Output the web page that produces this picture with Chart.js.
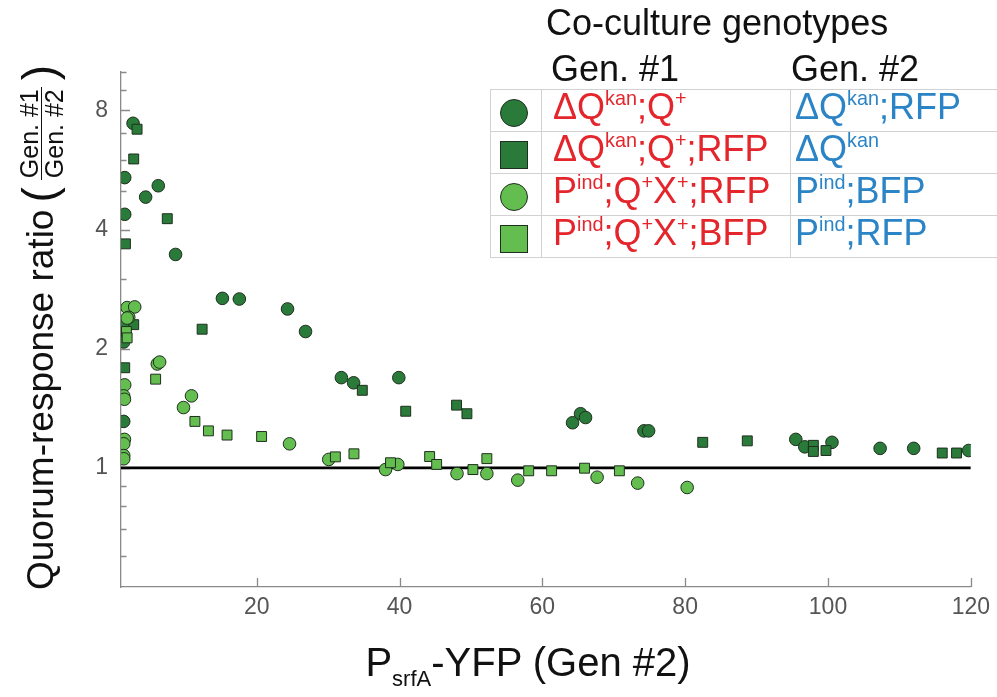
<!DOCTYPE html>
<html>
<head>
<meta charset="utf-8">
<script src="https://cdn.jsdelivr.net/npm/chart.js@4.4.0/dist/chart.umd.min.js"></script>
<style>
  html, body { margin: 0; padding: 0; background: #fff; }
  #wrap { position: relative; width: 997px; height: 697px; overflow: hidden;
          font-family: "Liberation Sans", Arial, sans-serif; }
  #chart { position: absolute; left: 0; top: 0; }
  .heading { position: absolute; font-size: 36px; line-height: 36px; color: #111; white-space: nowrap; }
  table.key { position: absolute; left: 490px; top: 89px; border-collapse: collapse; background: #fff;
              table-layout: fixed; width: 560px; }
  table.key td { border: 1.5px solid #d2d2d2; height: 41px; padding: 0; font-size: 36px;
                 line-height: 34px; white-space: nowrap; vertical-align: top; overflow: hidden; }
  table.key td.mk { text-align: center; vertical-align: middle; }
  table.key td.g1 { padding-left: 11px; color: #e4262c; }
  table.key td.g2 { padding-left: 4px; color: #2b84c6; }
  .sw { display: inline-block; width: 28px; height: 28px; border: 1.5px solid #1f2f1f;
        vertical-align: middle; box-sizing: border-box; margin-left: -5px; }
  .sw.circle { border-radius: 50%; }
  .sw.dark { background: #2a7a3a; }
  .sw.light { background: #63be4f; }
  table.key sup { font-size: 0.55em; vertical-align: 0; position: relative; top: -0.72em; }
  #ylab { position: absolute; left: 16px; top: 590px; transform-origin: 0 0; transform: rotate(-90deg);
          display: flex; align-items: center; white-space: nowrap; font-size: 37px; color: #111;
          height: 50px; }
  #ylab .paren { font-size: 46px; margin: 0 7px; position: relative; top: -2px; }
  #ylab .frac { display: inline-flex; flex-direction: column; align-items: center; font-size: 25px;
                line-height: 24px; }
  #ylab .frac .num { border-bottom: 1.5px solid #111; padding: 0 2px; }
  #xlab { position: absolute; left: 278px; width: 500px; top: 640px; text-align: center;
          font-family: "Liberation Sans Narrow", "Liberation Sans", Arial, sans-serif;
          font-size: 40px; color: #111; white-space: nowrap; }
  #xlab sub { font-size: 0.55em; vertical-align: 0; position: relative; top: 0.45em; }
</style>
</head>
<body>
<div id="wrap">
  <canvas id="chart" width="997" height="697"></canvas>

  <div id="ylab"><span>Quorum-response ratio</span><span class="paren">(</span><span class="frac"><span class="num">Gen. #1</span><span class="den">Gen. #2</span></span><span class="paren">)</span></div>
  <div id="xlab">P<sub>srfA</sub>-YFP (Gen #2)</div>

  <div class="heading" style="left:546px; top:5px;">Co-culture genotypes</div>
  <div class="heading" style="left:551px; top:51px;">Gen. #1</div>
  <div class="heading" style="left:791px; top:51px;">Gen. #2</div>
  <table class="key">
    <colgroup><col style="width:51px"><col style="width:249px"><col style="width:260px"></colgroup>
    <tr><td class="mk"><span class="sw circle dark"></span></td>
        <td class="g1">ΔQ<sup>kan</sup>;Q<sup>+</sup></td>
        <td class="g2">ΔQ<sup>kan</sup>;RFP</td></tr>
    <tr><td class="mk"><span class="sw dark"></span></td>
        <td class="g1">ΔQ<sup>kan</sup>;Q<sup>+</sup>;RFP</td>
        <td class="g2">ΔQ<sup>kan</sup></td></tr>
    <tr><td class="mk"><span class="sw circle light"></span></td>
        <td class="g1">P<sup>ind</sup>;Q<sup>+</sup>X<sup>+</sup>;RFP</td>
        <td class="g2">P<sup>ind</sup>;BFP</td></tr>
    <tr><td class="mk"><span class="sw light"></span></td>
        <td class="g1">P<sup>ind</sup>;Q<sup>+</sup>X<sup>+</sup>;BFP</td>
        <td class="g2">P<sup>ind</sup>;RFP</td></tr>
  </table>
</div>

<script>
// ΔQkan;Q+ versus ΔQkan;RFP (dark circles)
const dkCircleX = [2.69, 1.52, 6.22, 4.45, 1.52, 8.64, 15.2, 17.57, 24.32, 26.84, 1.38, 1.38, 1.38,
                   31.86, 33.57, 39.9, 64.23, 65.35, 66.05, 74.23, 74.88, 95.49, 96.75, 100.56,
                   107.3, 112.0, 119.7];
const dkCircleY = [7.42, 5.41, 5.16, 4.83, 4.37, 3.46, 2.68, 2.67, 2.52, 2.21, 2.31, 2.08, 1.31,
                   1.69, 1.64, 1.69, 1.30, 1.37, 1.34, 1.24, 1.24, 1.18, 1.13, 1.16,
                   1.12, 1.12, 1.106];

// ΔQkan;Q+;RFP versus ΔQkan (dark squares)
const dkSquareX = [3.25, 2.78, 7.48, 1.62, 12.36, 2.78, 1.52, 34.79, 40.87, 47.99, 49.44,
                   82.46, 88.7, 97.95, 97.95, 99.72, 116.0, 118.0];
const dkSquareY = [7.17, 6.03, 4.26, 3.68, 2.24, 2.30, 1.79, 1.57, 1.39, 1.44, 1.37,
                   1.16, 1.17, 1.14, 1.10, 1.106, 1.09, 1.09];

// Pind;Q+X+;RFP versus Pind;BFP (light circles)
const ltCircleX = [1.86, 2.92, 2.08, 1.86, 1.52, 1.38, 1.48, 1.48, 1.38, 1.38, 1.38,
                   6.08, 6.41, 10.87, 9.75, 24.6, 30.09, 38.04, 39.76, 48.05, 52.23,
                   56.56, 67.67, 73.35, 80.28];
const ltCircleY = [2.54, 2.55, 2.40, 2.39, 1.62, 1.52, 1.49, 1.18, 1.15, 1.074, 1.054,
                   1.83, 1.85, 1.52, 1.42, 1.15, 1.05, 0.99, 1.02, 0.967, 0.967,
                   0.931, 0.947, 0.915, 0.892];

// Pind;Q+X+;BFP versus Pind;RFP (light squares)
const ltSquareX = [1.76, 1.86, 5.85, 11.35, 13.24, 15.85, 20.69, 31.02, 33.62, 38.74, 44.22,
                   45.2, 50.28, 52.23, 58.09, 61.3, 65.91, 70.79];
const ltSquareY = [2.21, 2.13, 1.675, 1.31, 1.24, 1.21, 1.20, 1.066, 1.085, 1.03, 1.068,
                   1.02, 0.99, 1.055, 0.983, 0.983, 0.998, 0.983];

// Axis ticks
const xTickValues = [20, 40, 60, 80, 100, 120];
const yMajorTicks = [1, 2, 4, 8];
const yMinorTicks = [0.6, 0.7, 0.8, 0.9, 3, 5, 6, 7, 9, 10];

// Reference level: equal response of both genotypes
const parityLevel = 1;
const xRange = [1, 120];
const yRange = [0.5, 10];

const pairs = (xs, ys) => xs.map((x, i) => ({ x: x, y: ys[i] }));

const DARK = '#2a7a3a';
const LIGHT = '#63be4f';
const EDGE = '#1f2f1f';
const AXIS = '#8a8a8a';

// Tick marks drawn inward from the axis lines
const inwardTicks = {
  id: 'inwardTicks',
  beforeDatasetsDraw(chart) {
    const { ctx, chartArea, scales } = chart;
    ctx.save();
    ctx.strokeStyle = AXIS;
    ctx.lineWidth = 1.3;
    ctx.beginPath();
    scales.y.ticks.forEach(t => {
      const py = Math.round(scales.y.getPixelForValue(t.value)) + 0.5;
      const len = yMajorTicks.includes(t.value) ? 9 : 5.5;
      ctx.moveTo(chartArea.left, py);
      ctx.lineTo(chartArea.left + len, py);
    });
    scales.x.ticks.forEach(t => {
      const px = Math.round(scales.x.getPixelForValue(t.value)) + 0.5;
      ctx.moveTo(px, chartArea.bottom);
      ctx.lineTo(px, chartArea.bottom - 9);
    });
    ctx.stroke();
    ctx.restore();
  }
};

const tickFont = { family: '"Liberation Sans Narrow", "Liberation Sans", Arial, sans-serif', size: 23 };

new Chart(document.getElementById('chart'), {
  type: 'scatter',
  data: {
    datasets: [
      {
        type: 'line',
        data: [{ x: xRange[0], y: parityLevel }, { x: xRange[1], y: parityLevel }],
        borderColor: '#000', borderWidth: 2.6, pointRadius: 0, order: 5
      },
      {
        data: pairs(dkCircleX, dkCircleY), pointStyle: 'circle', pointRadius: 6.3,
        backgroundColor: DARK, borderColor: EDGE, borderWidth: 1, order: 4
      },
      {
        data: pairs(dkSquareX, dkSquareY), pointStyle: 'rect', pointRadius: 7,
        backgroundColor: DARK, borderColor: EDGE, borderWidth: 1, order: 3
      },
      {
        data: pairs(ltCircleX, ltCircleY), pointStyle: 'circle', pointRadius: 6.3,
        backgroundColor: LIGHT, borderColor: EDGE, borderWidth: 1, order: 2
      },
      {
        data: pairs(ltSquareX, ltSquareY), pointStyle: 'rect', pointRadius: 7,
        backgroundColor: LIGHT, borderColor: EDGE, borderWidth: 1, order: 1
      }
    ]
  },
  options: {
    responsive: false,
    animation: false,
    events: [],
    layout: { padding: { left: 0, top: 72, right: 24, bottom: 0 } },
    plugins: { legend: { display: false }, tooltip: { enabled: false } },
    scales: {
      x: {
        type: 'linear', min: xRange[0], max: xRange[1],
        afterBuildTicks(scale) { scale.ticks = xTickValues.map(v => ({ value: v })); },
        afterFit(scale) { scale.height = 110; },
        grid: { display: false, drawTicks: false },
        border: { display: true, color: AXIS, width: 1.3 },
        ticks: { color: '#555', font: tickFont, padding: 7, maxRotation: 0, autoSkip: false }
      },
      y: {
        type: 'logarithmic', min: yRange[0], max: yRange[1],
        afterBuildTicks(scale) {
          scale.ticks = yMinorTicks.concat(yMajorTicks).sort((a, b) => a - b).map(v => ({ value: v }));
        },
        afterFit(scale) { scale.width = 121; },
        grid: { display: false, drawTicks: false },
        border: { display: true, color: AXIS, width: 1.3 },
        ticks: {
          color: '#555', font: tickFont, padding: 13, autoSkip: false,
          callback: (v) => yMajorTicks.includes(v) ? String(v) : ''
        }
      }
    }
  },
  plugins: [inwardTicks]
});
</script>
</body>
</html>
